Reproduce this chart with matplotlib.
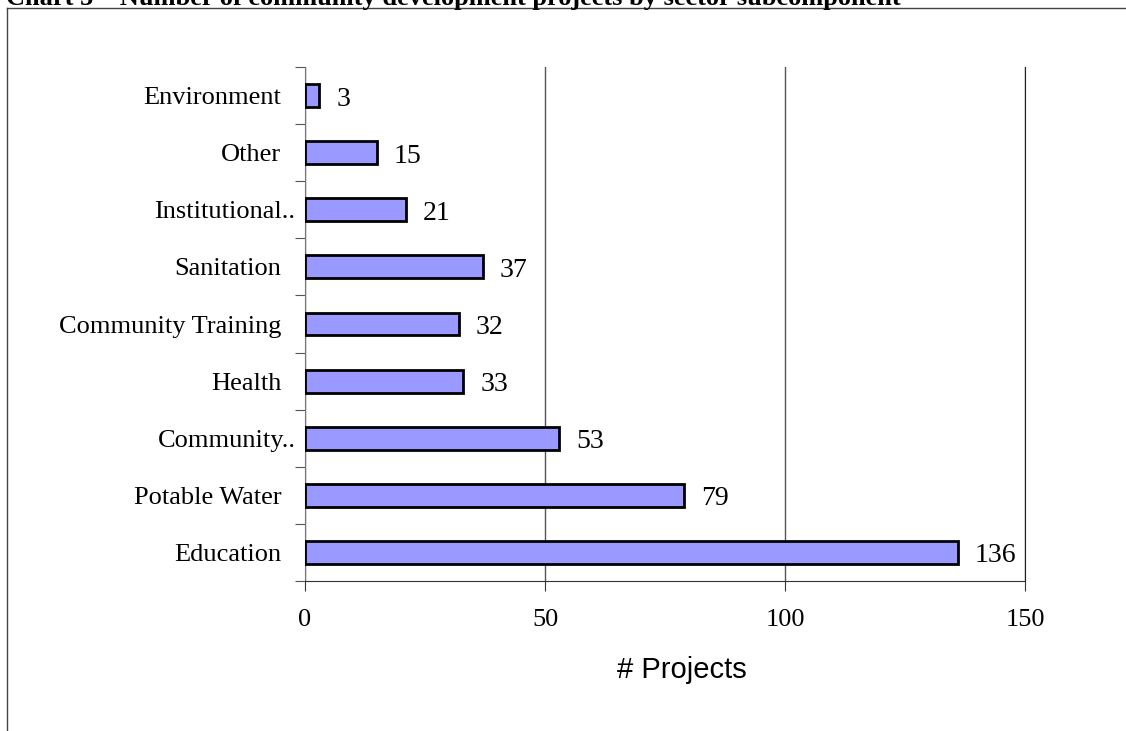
import matplotlib.pyplot as plt
from matplotlib.lines import Line2D
from matplotlib.transforms import ScaledTranslation

categories = ["Education", "Potable Water", "Community..", "Health",
              "Community Training", "Sanitation", "Institutional..",
              "Other", "Environment"]
projects = [136, 79, 53, 33, 32, 37, 21, 15, 3]
x_ticks = [0, 50, 100, 150]

serif = ["Liberation Serif", "DejaVu Serif"]
sans = ["Liberation Sans", "DejaVu Sans"]

fig = plt.figure(figsize=(11.26, 7.31), dpi=100)
ax = fig.add_axes([305 / 1126, 1 - 581 / 731, 720 / 1126, (581 - 67) / 731])

pos = list(range(len(categories)))
ax.barh(pos, projects, height=0.4, color="#9999FF", edgecolor="black",
        linewidth=2, zorder=3)

for p, v in zip(pos, projects):
    ax.annotate(str(v), (v, p), xytext=(12, -2.5), textcoords="offset points",
                va="center", ha="left", fontsize=20, family=serif, zorder=4)

ax.set_xlim(0, 150)
ax.set_ylim(-0.5, len(categories) - 0.5)
ax.set_xticks(x_ticks)
ax.set_xticklabels([str(t) for t in x_ticks], family=serif, fontsize=19)
ax.set_yticks([p - 0.5 for p in pos] + [len(categories) - 0.5])
ax.set_yticklabels([])
ax.set_yticks(pos, minor=True)
ax.set_yticklabels(categories, minor=True, family=serif, fontsize=19)
ax.tick_params(axis="y", which="minor", length=0, pad=17)
ax.tick_params(axis="y", which="major", length=7, color="#555555", direction="out")
ax.tick_params(axis="x", length=7, color="#333333", pad=13)

# truncated labels run a little closer to the axis
for lab in ax.get_yticklabels(minor=True):
    if lab.get_text().endswith(".."):
        lab.set_transform(lab.get_transform() +
                          ScaledTranslation(14 / 100, 0, fig.dpi_scale_trans))

ax.xaxis.grid(True, color="#555555", linewidth=1, zorder=0)
ax.spines["top"].set_visible(False)
ax.spines["right"].set_color("#222222")
ax.spines["left"].set_color("#777777")
ax.spines["bottom"].set_color("#333333")

ax.set_xlabel("# Projects", family=sans, fontsize=21)
ax.xaxis.set_label_coords(0.524, -0.145)

# outer frame of the chart box
fig.add_artist(Line2D([7 / 1126, 7 / 1126], [0, 1 - 8 / 731],
                      color="#444444", linewidth=1))
fig.add_artist(Line2D([7 / 1126, 1], [1 - 8 / 731, 1 - 8 / 731],
                      color="#444444", linewidth=1))

fig.text(6 / 1126, 1 - 5 / 731,
         "Chart 5 \u2013 Number of community development projects by sector subcomponent",
         family=serif, fontsize=19, fontweight="bold", va="baseline", ha="left")

fig.savefig("out.png", dpi=100)
